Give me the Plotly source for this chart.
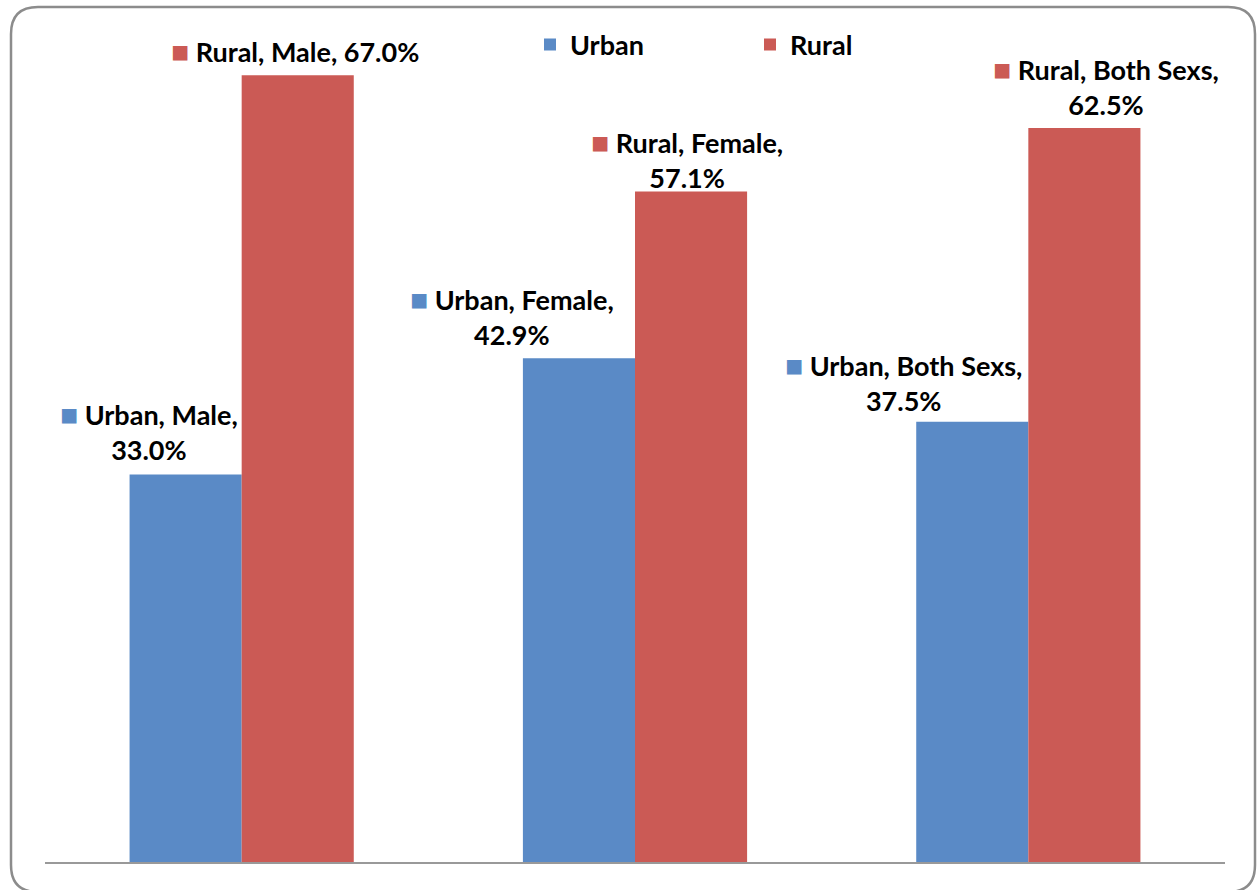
import plotly.graph_objects as go

categories = ["Male", "Female", "Both Sexs"]
urban = [33.0, 42.9, 37.5]
rural = [67.0, 57.1, 62.5]
series_names = ["Urban", "Rural"]

BLUE = "#5A8AC6"
RED = "#CB5A55"
FONT = "Lato"
FS = 27

W, H = 1258, 890
ML, MR, MT, MB = 45, 33, 40, 28
PW = W - ML - MR
PH = H - MT - MB

def px(x):
    return (x - ML) / PW

def py(y):
    return (H - MB - y) / PH

fig = go.Figure()
fig.add_trace(go.Bar(name=series_names[0], x=categories, y=urban, marker_color=BLUE,
                     marker_line_width=0))
fig.add_trace(go.Bar(name=series_names[1], x=categories, y=rural, marker_color=RED,
                     marker_line_width=0))

# label offsets in pixels relative to the top centre of each bar: (xshift, yshift)
label_offsets = {
    0: [(-37, 44), (-67, 43), (-69, 40)],
    1: [(-3, 25), (-4, 33), (22, 43)],
}
bar_offset = {0: -56, 1: 56}

annotations = []
for si, (vals, name, col) in enumerate([(urban, series_names[0], BLUE), (rural, series_names[1], RED)]):
    for ci, (cat, v) in enumerate(zip(categories, vals)):
        xs, ys = label_offsets[si][ci]
        sq = f"<span style='color:{col};font-size:30px'>■</span>"
        if si == 1 and ci == 0:
            txt = f"{sq} {name}, {cat}, {v:.1f}%"
        else:
            txt = f"{sq} {name}, {cat},<br>{v:.1f}%"
        annotations.append(dict(
            x=cat, y=v, xref="x", yref="y", text=txt, showarrow=False,
            xanchor="center", yanchor="middle",
            xshift=xs + bar_offset[si], yshift=ys, align="center",
            font=dict(family=FONT, size=FS, color="black", weight="bold"),
        ))

# rounded chart border
x0, x1, y0, y1 = px(11), px(1255), py(892), py(7)
rx, ry = 27 / PW, 27 / PH
path = (f"M {x0+rx},{y1} L {x1-rx},{y1} Q {x1},{y1} {x1},{y1-ry} "
        f"L {x1},{y0+ry} Q {x1},{y0} {x1-rx},{y0} L {x0+rx},{y0} "
        f"Q {x0},{y0} {x0},{y0+ry} L {x0},{y1-ry} Q {x0},{y1} {x0+rx},{y1} Z")

fig.update_layout(
    width=W, height=H,
    margin=dict(l=ML, r=MR, t=MT, b=MB, autoexpand=False),
    paper_bgcolor="white", plot_bgcolor="white",
    barmode="group", bargap=0.43, bargroupgap=0,
    showlegend=True,
    legend=dict(orientation="h", x=px(530), y=py(45), xanchor="left", yanchor="middle",
                font=dict(family=FONT, size=FS, color="black", weight="bold"),
                entrywidth=175, entrywidthmode="pixels", itemwidth=30,
                bgcolor="rgba(0,0,0,0)"),
    xaxis=dict(range=[-0.5, 2.5], showline=True, linecolor="#999999", linewidth=2,
               showticklabels=False, ticks="", showgrid=False, zeroline=False),
    yaxis=dict(range=[0, 70], visible=False, showgrid=False, zeroline=False),
    annotations=annotations,
    shapes=[dict(type="path", path=path, xref="paper", yref="paper",
                 line=dict(color="#8C8C8C", width=2.5), fillcolor="rgba(0,0,0,0)",
                 layer="below")],
)

fig.write_html("out.html", config={"displayModeBar": False},
               post_script="document.body.style.margin='0px';")
